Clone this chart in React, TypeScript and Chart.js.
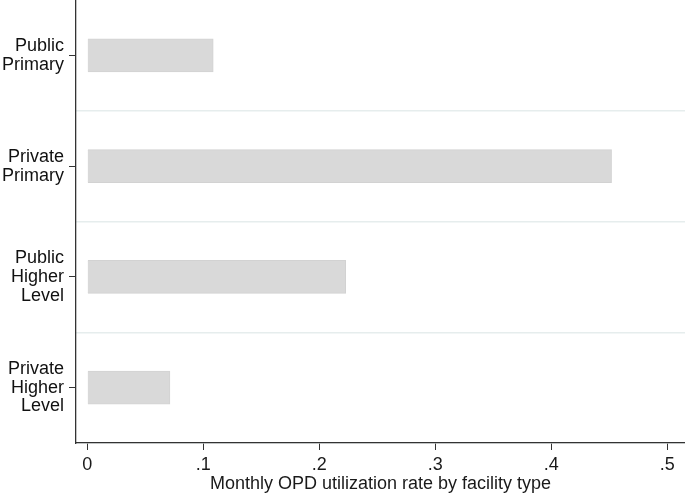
import React, { useEffect, useRef } from 'react';
import { Chart, registerables } from 'chart.js';

Chart.register(...registerables);

const categories = ['Public Primary', 'Private Primary', 'Public Higher Level', 'Private Higher Level'];
const utilization = [0.1086, 0.452, 0.2228, 0.0713];
const tickValues = [0, 0.1, 0.2, 0.3, 0.4, 0.5];

const fmtTick = (v: number) => {
    const r = Math.round(v * 10) / 10;
    return r === 0 ? '0' : String(r).replace(/^0/, '');
};

export default function App() {
    const canvasRef = useRef<HTMLCanvasElement | null>(null);
    const chartRef = useRef<Chart | null>(null);

    useEffect(() => {
        document.body.style.margin = '0';
        const ctx = canvasRef.current?.getContext('2d');
        if (!ctx) return;
        if (chartRef.current) chartRef.current.destroy();

        const font = { family: '"Liberation Sans", Arial, sans-serif', size: 18 };

        chartRef.current = new Chart(ctx, {
            type: 'bar',
            data: {
                labels: categories,
                datasets: [
                    {
                        label: 'Monthly OPD utilization rate',
                        data: utilization,
                        backgroundColor: '#d9d9d9',
                        borderColor: '#d2d2d2',
                        borderWidth: 1,
                        barThickness: 33,
                        xAxisID: 'x',
                        yAxisID: 'y'
                    }
                ]
            },
            options: {
                animation: false,
                responsive: true,
                maintainAspectRatio: false,
                indexAxis: 'y',
                layout: { padding: 0 },
                plugins: {
                    legend: { display: false },
                    tooltip: { enabled: false }
                },
                scales: {
                    x: {
                        type: 'linear',
                        min: -0.0097,
                        max: 0.5153,
                        afterBuildTicks: (scale: any) => {
                            scale.ticks = tickValues.map((value) => ({ value }));
                        },
                        afterFit: (scale: any) => {
                            scale.height = 53;
                        },
                        ticks: {
                            font,
                            color: '#1a1a1a',
                            padding: 4,
                            maxRotation: 0,
                            callback: (v: any) => fmtTick(Number(v))
                        },
                        grid: {
                            drawOnChartArea: false,
                            drawTicks: true,
                            tickLength: 7,
                            color: '#333'
                        },
                        border: { color: '#333', width: 1.3 },
                        title: {
                            display: true,
                            text: 'Monthly OPD utilization rate by facility type',
                            font,
                            color: '#1a1a1a',
                            padding: { top: 0, bottom: 1 }
                        }
                    },
                    y: {
                        type: 'category',
                        afterFit: (scale: any) => {
                            scale.width = 76;
                            scale.paddingTop = 0;
                            scale.paddingBottom = 0;
                        },
                        ticks: {
                            font: { ...font, lineHeight: 1.05 },
                            color: '#111',
                            padding: 5,
                            callback: function (this: any, v: any) {
                                return String(this.getLabelForValue(v)).split(' ');
                            }
                        },
                        grid: {
                            offset: false,
                            drawOnChartArea: false,
                            drawTicks: true,
                            tickLength: 7,
                            color: '#333'
                        },
                        border: { color: '#333', width: 1.3 }
                    },
                    y2: {
                        type: 'category',
                        position: 'left',
                        afterFit: (scale: any) => {
                            scale.width = 0;
                            scale.paddingTop = 0;
                            scale.paddingBottom = 0;
                        },
                        ticks: { display: false },
                        grid: {
                            offset: true,
                            drawTicks: false,
                            color: (c: any) =>
                                c.index === 0 || c.index >= categories.length ? 'rgba(0,0,0,0)' : '#e6eded',
                            lineWidth: 1.5
                        },
                        border: { display: false }
                    }
                }
            }
        });

        return () => {
            if (chartRef.current) {
                chartRef.current.destroy();
                chartRef.current = null;
            }
        };
    }, []);

    return (
        <div style={{ width: 685, height: 496, position: 'relative', background: '#fff' }}>
            <canvas ref={canvasRef}></canvas>
        </div>
    );
}
